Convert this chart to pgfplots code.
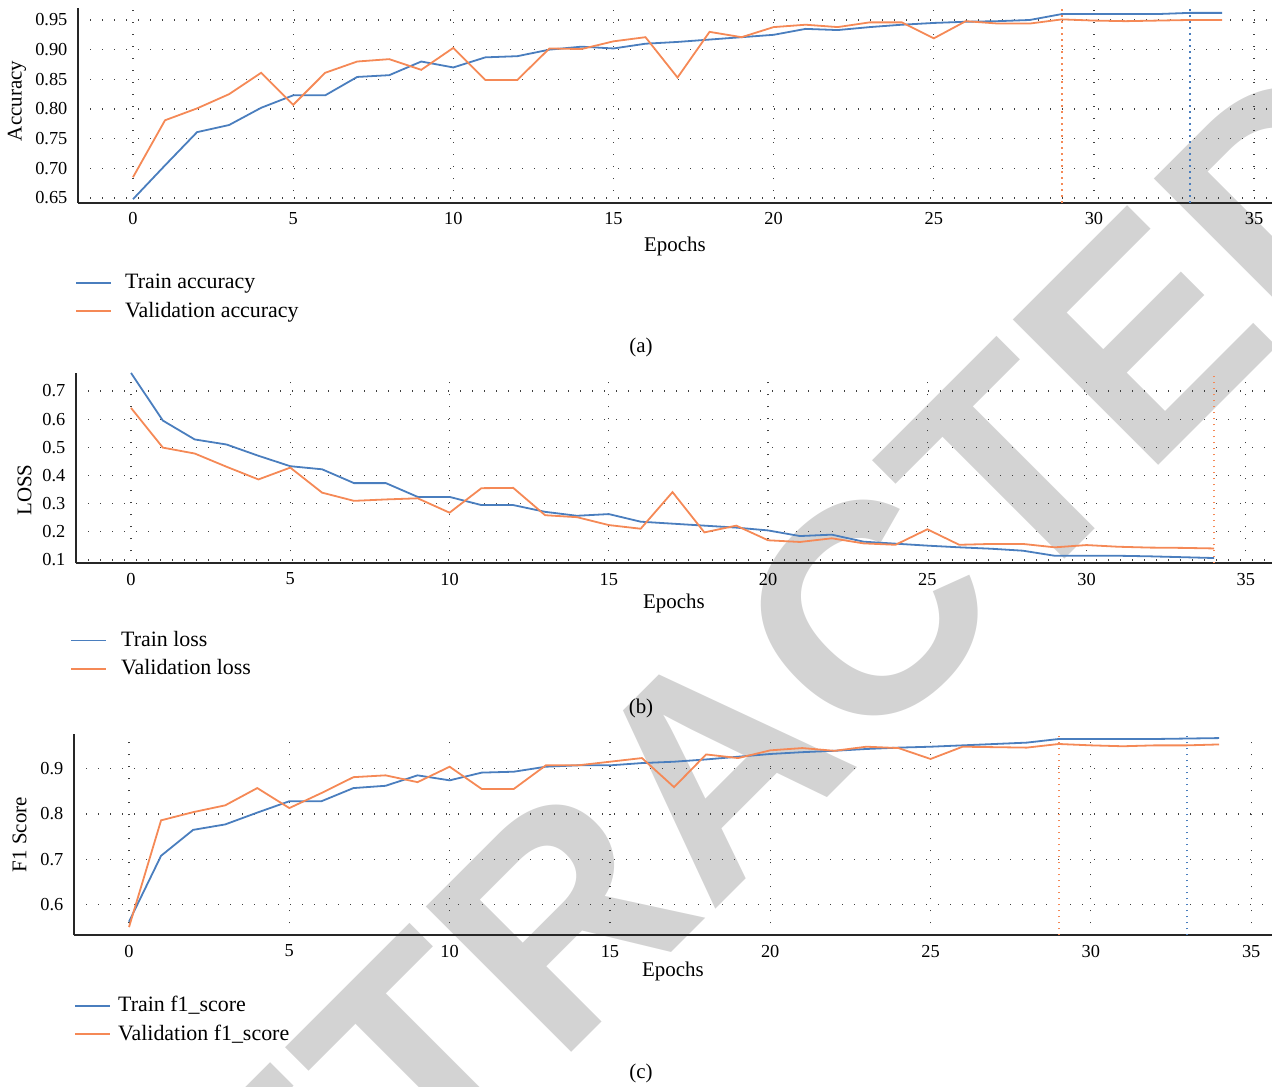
\documentclass[border=0pt]{standalone}
\usepackage{pgfplots}
\pgfplotsset{compat=1.18}
\usepackage{pgfplotstable}
\usepackage{fontspec}
\setmainfont{Liberation Serif}
\newfontfamily\wmfont{Liberation Sans}
\definecolor{cblue}{RGB}{74,126,190}
\definecolor{corange}{RGB}{245,137,86}
\definecolor{wm}{RGB}{211,211,211}

\pgfplotstableread{
e acctr accva
0 0.648 0.685
1 0.705 0.781
2 0.761 0.801
3 0.773 0.825
4 0.802 0.861
5 0.823 0.807
6 0.823 0.861
7 0.854 0.880
8 0.857 0.884
9 0.880 0.866
10 0.870 0.903
11 0.887 0.849
12 0.889 0.849
13 0.900 0.902
14 0.905 0.901
15 0.902 0.914
16 0.910 0.921
17 0.913 0.853
18 0.917 0.930
19 0.921 0.921
20 0.925 0.938
21 0.935 0.942
22 0.933 0.938
23 0.938 0.946
24 0.942 0.946
25 0.945 0.919
26 0.947 0.948
27 0.948 0.944
28 0.950 0.944
29 0.960 0.951
30 0.960 0.949
31 0.960 0.948
32 0.960 0.949
33 0.962 0.950
34 0.962 0.950
}\acctable

\pgfplotstableread{
e losstr lossva
0 0.764 0.640
1 0.595 0.499
2 0.528 0.478
3 0.510 0.431
4 0.470 0.386
5 0.433 0.428
6 0.422 0.339
7 0.373 0.310
8 0.373 0.315
9 0.324 0.319
10 0.324 0.268
11 0.295 0.355
12 0.295 0.356
13 0.271 0.259
14 0.257 0.252
15 0.263 0.224
16 0.236 0.211
17 0.229 0.341
18 0.222 0.198
19 0.215 0.222
20 0.205 0.170
21 0.185 0.164
22 0.190 0.177
23 0.165 0.159
24 0.158 0.154
25 0.151 0.209
26 0.145 0.154
27 0.140 0.157
28 0.133 0.157
29 0.115 0.145
30 0.115 0.153
31 0.115 0.147
32 0.113 0.144
33 0.110 0.143
34 0.107 0.141
}\losstable

\pgfplotstableread{
e f1tr f1va
0 0.563 0.551
1 0.708 0.786
2 0.765 0.804
3 0.777 0.819
4 0.803 0.857
5 0.828 0.813
6 0.828 0.846
7 0.857 0.881
8 0.862 0.885
9 0.885 0.870
10 0.874 0.904
11 0.891 0.855
12 0.893 0.855
13 0.904 0.907
14 0.907 0.907
15 0.907 0.915
16 0.912 0.923
17 0.915 0.859
18 0.920 0.931
19 0.926 0.923
20 0.932 0.940
21 0.936 0.945
22 0.939 0.939
23 0.943 0.948
24 0.946 0.945
25 0.948 0.921
26 0.951 0.948
27 0.954 0.947
28 0.957 0.946
29 0.965 0.954
30 0.965 0.951
31 0.965 0.949
32 0.965 0.951
33 0.966 0.951
34 0.967 0.953
}\fonetable

\pgfplotsset{
  myaxis/.style={
    scale only axis,
    axis x line*=bottom, axis y line*=left,
    axis line style={-, line width=1bp, black!85},
    major tick length=0pt,
    xtick={0,5,...,35},
    grid=major,
    major grid style={black!75, line width=0.6bp, dash pattern=on 0.6bp off 5.4bp},
    tick label style={font=\fontsize{9.2}{11}\selectfont},
    xticklabel style={yshift=-1.3bp},
    yticklabel style={xshift=-1.8bp},
    /pgf/number format/assume math mode=true,
    scaled ticks=false,
    label style={font=\fontsize{10.5}{12}\selectfont},
    xlabel={Epochs},
    legend cell align=left,
    legend style={draw=none, fill=none, inner sep=0pt, anchor=north west,
      font=\fontsize{11}{13}\selectfont, nodes={inner sep=0pt},
      row sep=5bp, column sep=7.5bp},
    legend image code/.code={\draw[#1] (0bp,0bp) -- (17.5bp,0bp);},
  },
  trainline/.style={cblue, line width=0.9bp},
  valline/.style={corange, line width=0.9bp},
  vline/.style={line width=0.7bp, dash pattern=on 0.8bp off 2.2bp, forget plot},
}

\begin{document}
\begin{tikzpicture}
\path[use as bounding box] (0,0) rectangle (636bp,543.5bp);
\node[rotate=45, text=wm, inner sep=0pt, font=\wmfont\bfseries\fontsize{150}{150}\selectfont] at (357bp,161bp) {RETRACTED};

% (a) accuracy
\begin{axis}[myaxis,
  at={(39bp,442bp)}, anchor=south west,
  width=597bp, height=97.5bp,
  xmin=-1.717, xmax=35.56, ymin=0.6416, ymax=0.9702,
  ytick={0.65,0.70,0.75,0.80,0.85,0.90,0.95},
  yticklabel style={/pgf/number format/fixed, /pgf/number format/precision=2, /pgf/number format/fixed zerofill},
  ylabel={Accuracy},
  ylabel style={at={(axis description cs:0,0.5)}, anchor=center, xshift=2.25bp, yshift=30.5bp},
  xlabel style={at={(axis description cs:0.5,0)}, anchor=center, yshift=-21.5bp},
  legend style={at={(axis description cs:0,0)}, xshift=-1.5bp, yshift=-35.5bp, column sep=6.5bp},
]
\addplot[trainline] table[x=e, y=acctr] {\acctable};
\addlegendentry{Train accuracy}
\addplot[valline] table[x=e, y=accva] {\acctable};
\addlegendentry{Validation accuracy}
\addplot[corange, vline] coordinates {(29,0.6416) (29,0.9702)};
\addplot[cblue, vline] coordinates {(33,0.6416) (33,0.9702)};
\end{axis}

% (b) loss
\begin{axis}[myaxis,
  at={(38bp,261.85bp)}, anchor=south west,
  width=598bp, height=95.3bp,
  xmin=-1.727, xmax=35.82, ymin=0.0883, ymax=0.765,
  ytick={0.1,0.2,0.3,0.4,0.5,0.6,0.7},
  yticklabel style={/pgf/number format/fixed, /pgf/number format/precision=1, /pgf/number format/fixed zerofill},
  ylabel={LOSS},
  ylabel style={at={(axis description cs:0,0.5)}, anchor=center, xshift=-11bp, yshift=25.75bp},
  xlabel style={at={(axis description cs:0.5,0)}, anchor=center, yshift=-20.3bp},
  legend style={at={(axis description cs:0,0)}, xshift=-3bp, yshift=-33.85bp, column sep=7bp},
]
\addplot[trainline] table[x=e, y=losstr] {\losstable};
\addlegendentry{Train loss}
\addplot[valline] table[x=e, y=lossva] {\losstable};
\addlegendentry{Validation loss}
\addplot[corange, vline] coordinates {(34,0.0883) (34,0.765)};
\end{axis}

% (c) f1
\begin{axis}[myaxis,
  at={(37bp,75.85bp)}, anchor=south west,
  width=599bp, height=100.65bp,
  xmin=-1.716, xmax=35.65, ymin=0.533, ymax=0.976,
  ytick={0.6,0.7,0.8,0.9},
  yticklabel style={/pgf/number format/fixed, /pgf/number format/precision=1, /pgf/number format/fixed zerofill},
  ylabel={F1 Score},
  ylabel style={at={(axis description cs:0,0.5)}, anchor=center, yshift=27.25bp},
  xlabel style={at={(axis description cs:0.5,0)}, anchor=center, yshift=-17.9bp},
  legend style={at={(axis description cs:0,0)}, xshift=0bp, yshift=-30.35bp, column sep=3.5bp},
]
\addplot[trainline] table[x=e, y=f1tr] {\fonetable};
\addlegendentry{Train f1\_score}
\addplot[valline] table[x=e, y=f1va] {\fonetable};
\addlegendentry{Validation f1\_score}
\addplot[corange, vline] coordinates {(29,0.533) (29,0.976)};
\addplot[cblue, vline] coordinates {(33,0.533) (33,0.976)};
\end{axis}

\node[font=\fontsize{10.5}{12}\selectfont] at (320.5bp,370bp) {(a)};
\node[font=\fontsize{10.5}{12}\selectfont] at (320.5bp,189.5bp) {(b)};
\node[font=\fontsize{10.5}{12}\selectfont] at (320.5bp,7bp) {(c)};
\end{tikzpicture}
\end{document}
